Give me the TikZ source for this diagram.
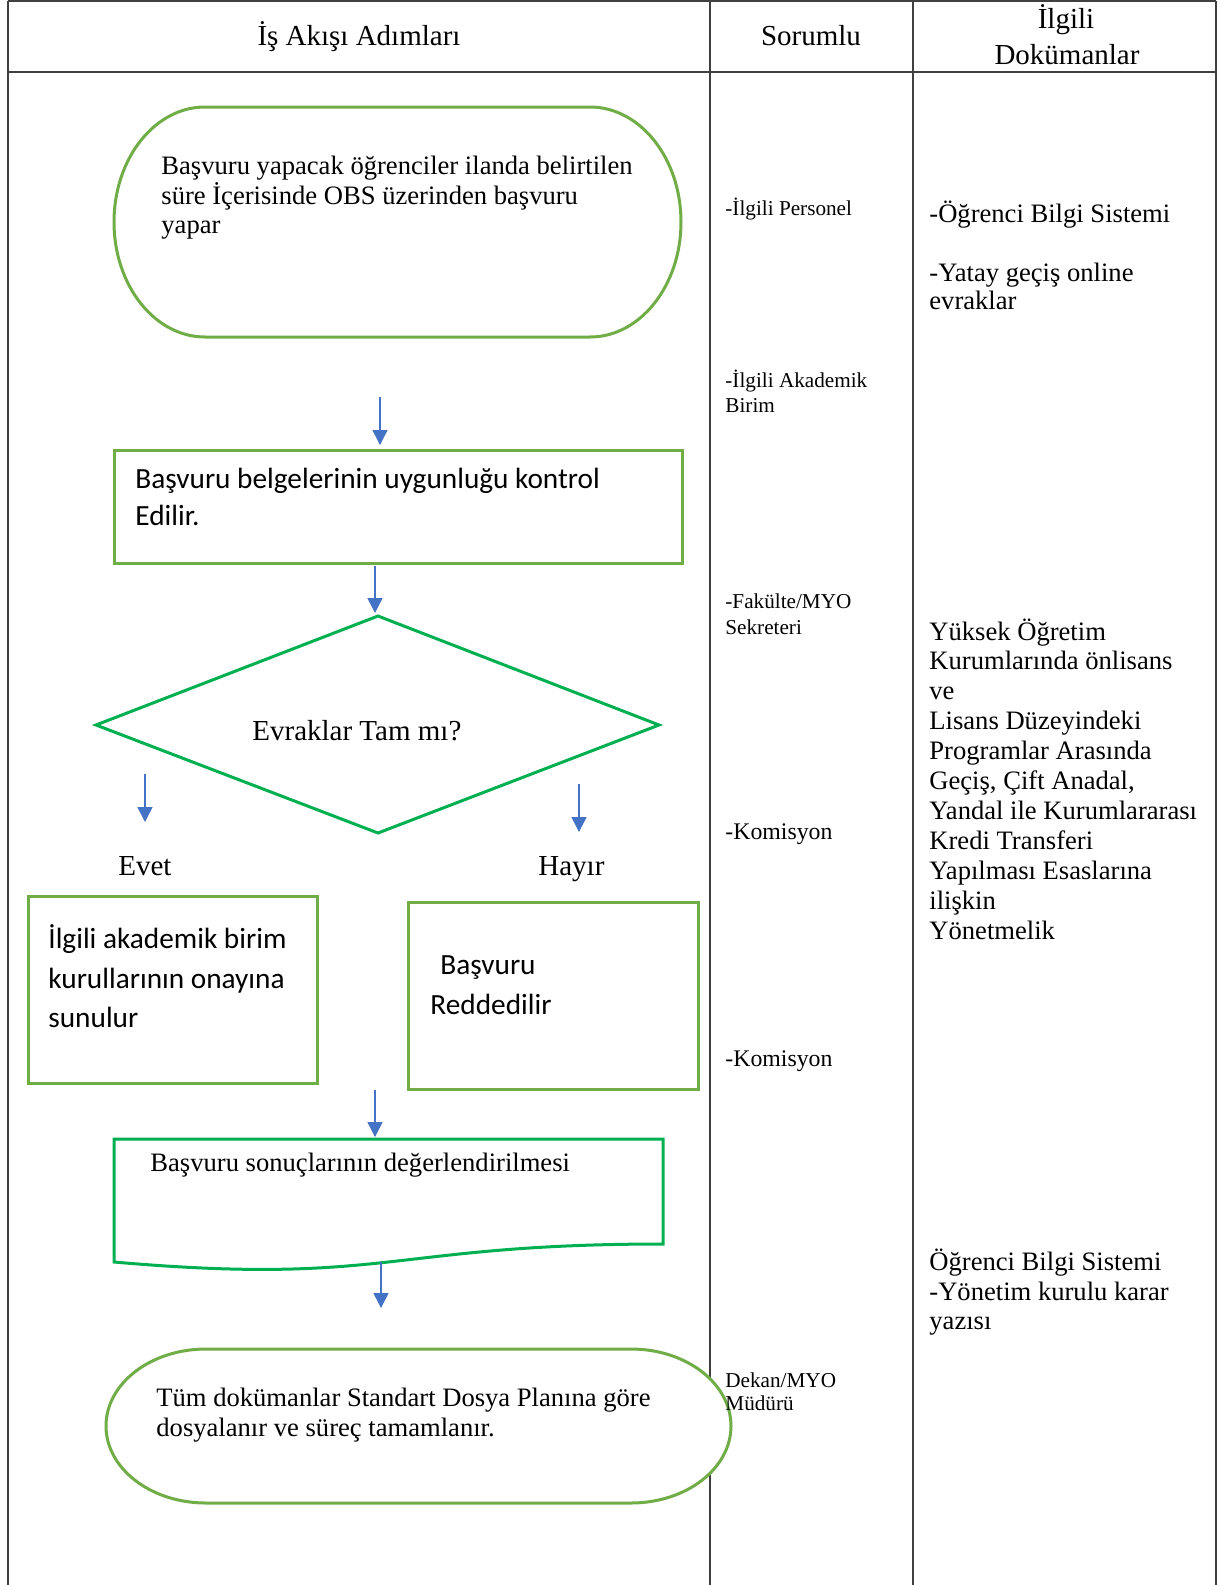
\documentclass[tikz,border=0pt]{standalone}
\usepackage{fontspec}
\setmainfont{Liberation Serif}
\newfontfamily\calibrifont{Carlito}
\usetikzlibrary{arrows.meta}
\definecolor{tablegray}{HTML}{404040}
\definecolor{boxgreen}{HTML}{70AD47}
\definecolor{brightgreen}{HTML}{00B050}
\definecolor{arrowblue}{HTML}{4472C4}

\begin{document}
\begin{tikzpicture}[x=0.5pt,y=-0.5pt,
  tline/.style={tablegray, line width=1pt},
  boxline/.style={draw=boxgreen, line width=1.5pt},
  shapeline/.style={draw=brightgreen, line width=1.5pt},
  flowarrow/.style={arrowblue, line width=0.75pt, -{Triangle[width=7.5pt,length=7.5pt]}},
  txt/.style={inner sep=0pt, anchor=base west},
  bodytxt/.style={txt, font=\fontsize{13.3}{15}\selectfont},
  headtxt/.style={inner sep=0pt, anchor=base, font=\fontsize{14.5}{17}\selectfont},
  smalltxt/.style={txt, font=\fontsize{10.6}{12}\selectfont},
  midtxt/.style={txt, font=\fontsize{11.9}{14}\selectfont},
  sanstxt/.style={txt, font=\calibrifont\fontsize{14.65}{18}\selectfont},
  bigtxt/.style={txt, font=\fontsize{14.5}{17}\selectfont},
]
\useasboundingbox (0,0) rectangle (1217,1585);
\fill[white] (0,0) rectangle (1217,1585);

% table grid
\draw[tline] (8,1) -- (1216,1);
\draw[tline, line width=1.2pt] (8,72) -- (1216,72);
\draw[tline] (8,1) -- (8,1585);
\draw[tline] (710,1) -- (710,1585);
\draw[tline] (913,1) -- (913,1585);
\draw[tline] (1216,1) -- (1216,1585);

% header
\node[headtxt] (h1) at (359,45) {İş Akışı Adımları};
\node[headtxt] (h2) at (811,45) {Sorumlu};
\node[headtxt] (h3a) at (1066,28) {İlgili};
\node[headtxt] (h3b) at (1067,64) {Dokümanlar};

% start terminator
\draw[boxline, fill=white] (205,107) -- (590,107)
  arc[start angle=-90, end angle=90, x radius=91, y radius=115] -- (205,337)
  arc[start angle=90, end angle=270, x radius=91, y radius=115] -- cycle;
\node[bodytxt] (s1) at (161,174) {Başvuru yapacak öğrenciler ilanda belirtilen};
\node[bodytxt] (s2) at (161,204) {süre İçerisinde OBS üzerinden başvuru};
\node[bodytxt] (s3) at (161,233) {yapar};

% check box
\draw[boxline] (114,450) rectangle (682,563);
\node[sanstxt] (k1) at (135,488) {Başvuru belgelerinin uygunluğu kontrol};
\node[sanstxt] (k2) at (135,525) {Edilir.};

% decision
\draw[shapeline] (378,616) -- (659,725) -- (378,833) -- (96,725) -- cycle;
\node[bigtxt] (q) at (252,740) {Evraklar Tam mı?};
\node[bigtxt] (yes) at (118,875) {Evet};
\node[bigtxt] (no) at (538,875) {Hayır};

% yes / no boxes
\draw[boxline] (28,896) rectangle (317,1083);
\node[sanstxt] (e1) at (48,948) {İlgili akademik birim};
\node[sanstxt] (e2) at (48,988) {kurullarının onayına};
\node[sanstxt] (e3) at (48,1027) {sunulur};
\draw[boxline] (408,902) rectangle (698,1089);
\node[sanstxt] (r1) at (440,974) {Başvuru};
\node[sanstxt] (r2) at (430,1014) {Reddedilir};

% document shape
\draw[shapeline, fill=white] (114,1139) -- (663,1139) -- (663,1244)
  .. controls (388,1244) and (388,1286) .. (114,1262) -- cycle;
\node[bodytxt] (d1) at (150,1171) {Başvuru sonuçlarının değerlendirilmesi};

% end terminator
\draw[boxline, fill=white] (206,1349) -- (631,1349)
  arc[start angle=-90, end angle=90, x radius=100, y radius=77] -- (206,1503)
  arc[start angle=90, end angle=270, x radius=100, y radius=77] -- cycle;
\node[bodytxt] (t1) at (156,1406) {Tüm dokümanlar Standart Dosya Planına göre};
\node[bodytxt] (t2) at (156,1436) {dosyalanır ve süreç tamamlanır.};

% connectors
\coordinate (a1s) at (380,397);  \coordinate (a1e) at (380,445);
\coordinate (a2s) at (375,566);  \coordinate (a2e) at (375,613);
\coordinate (a3s) at (145,774);  \coordinate (a3e) at (145,822);
\coordinate (a4s) at (579,784);  \coordinate (a4e) at (579,832);
\coordinate (a5s) at (375,1090); \coordinate (a5e) at (375,1137);
\coordinate (a6s) at (381,1262); \coordinate (a6e) at (381,1308);
\draw[flowarrow] (a1s) -- (a1e);
\draw[flowarrow] (a2s) -- (a2e);
\draw[flowarrow] (a3s) -- (a3e);
\draw[flowarrow] (a4s) -- (a4e);
\draw[flowarrow] (a5s) -- (a5e);
\draw[flowarrow] (a6s) -- (a6e);

% responsible column
\node[smalltxt] (p1) at (725,215) {-İlgili Personel};
\node[smalltxt] (p2) at (725,387) {-İlgili Akademik};
\node[smalltxt] (p3) at (725,412) {Birim};
\node[smalltxt] (p4) at (725,608) {-Fakülte/MYO};
\node[smalltxt] (p5) at (725,634) {Sekreteri};
\node[midtxt] (p6) at (725,839) {-Komisyon};
\node[midtxt] (p7) at (725,1066) {-Komisyon};
\node[smalltxt] (p8) at (725,1387) {Dekan/MYO};
\node[smalltxt] (p9) at (725,1410) {Müdürü};

% documents column
\node[bodytxt] (o1) at (929,222) {-Öğrenci Bilgi Sistemi};
\node[bodytxt] (o2) at (929,281) {-Yatay geçiş online};
\node[bodytxt] (o3) at (929,309) {evraklar};
\foreach \line [count=\k from 0] in {Yüksek Öğretim, Kurumlarında önlisans, ve,
    Lisans Düzeyindeki, Programlar Arasında, {Geçiş, Çift Anadal,},
    Yandal ile Kurumlararası, Kredi Transferi, Yapılması Esaslarına,
    ilişkin, Yönetmelik}
  \node[bodytxt] (reg\k) at (929,640+29.9*\k) {\line};
\node[bodytxt] (o4) at (929,1270) {Öğrenci Bilgi Sistemi};
\node[bodytxt] (o5) at (929,1300) {-Yönetim kurulu karar};
\node[bodytxt] (o6) at (929,1329) {yazısı};
\end{tikzpicture}
\end{document}
